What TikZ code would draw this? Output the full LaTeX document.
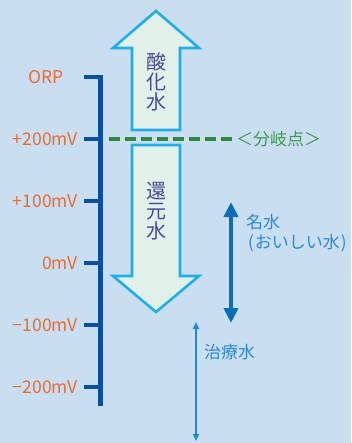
\documentclass[tikz,border=0pt]{standalone}
\usepackage{fontspec}
\newfontfamily\jpfont{Noto Sans CJK JP}
\usetikzlibrary{positioning,arrows.meta}

\definecolor{bgblue}{HTML}{CADEF2}
\definecolor{orpcol}{HTML}{EC6B2D}
\definecolor{axiscol}{HTML}{0A50A2}
\definecolor{arrline}{HTML}{1EAEE8}
\definecolor{arrfill}{HTML}{E2F0EA}
\definecolor{arrtext}{HTML}{4B4A96}
\definecolor{dashcol}{HTML}{2A8C3C}
\definecolor{bunkicol}{HTML}{3D9A4E}
\definecolor{meicol}{HTML}{0D6EB8}
\definecolor{meitext}{HTML}{2C8AD0}
\definecolor{chiryocol}{HTML}{1E8AD6}

\begin{document}
\begin{tikzpicture}[x=1pt,y=-1pt,
  scalelab/.style={font=\jpfont\fontsize{17.5}{20}\selectfont,text=orpcol,inner sep=0pt},
  axisline/.style={axiscol,line width=4.5pt},
  bigarrow/.style={draw=arrline,fill=arrfill,line width=2.6pt,line join=miter},
  arrlab/.style={font=\jpfont\fontsize{20}{20}\selectfont,text=arrtext,align=center,inner sep=0pt},
  sidelab/.style={font=\jpfont\fontsize{17}{20}\selectfont,inner sep=0pt,anchor=west}]
\fill[bgblue] (0,0) rectangle (351,443);
\useasboundingbox (0,0) rectangle (351,443);

% ORP scale
\draw[axisline] (84,77) -- (100.5,77) -- (100.5,406);
\node[scalelab] (orp) at (46,77) {ORP};
\foreach \y/\lab/\nm in {139/+200mV/pz, 201/+100mV/pa, 263/0mV/zero, 325/−100mV/ma, 387/−200mV/mz} {
  \draw[axisline] (84,\y) -- (100.5,\y);
  \node[scalelab,anchor=east] (\nm) at (78,\y) {\lab};
}

% oxidized / reduced water
\draw[bigarrow] (132,130) -- (132,48) -- (113,48) -- (156,11) -- (199,48) -- (180,48) -- (180,130) -- cycle;
\node[arrlab] (sanka) at (156,82) {酸\\化\\水};
\draw[bigarrow] (132,145) -- (180,145) -- (180,276) -- (199,276) -- (156,312) -- (113,276) -- (132,276) -- cycle;
\node[arrlab] (kangen) at (156,211) {還\\元\\水};

% branch point
\node[sidelab,text=bunkicol] (bunki) at (236,139) {＜分岐点＞};
\coordinate (dashstart) at (109,139);
\draw[dashcol,line width=4pt,dash pattern=on 10.7pt off 5.3pt] (dashstart) -- (232,139);

% good water
\coordinate (meitop) at (231,202);
\coordinate (meibot) at (231,323);
\draw[meicol,line width=4pt,{Triangle[length=15pt,width=14pt]}-{Triangle[length=15pt,width=14pt]}] (meitop) -- (meibot);
\node[sidelab,text=meitext] (meisui) at (246,222) {名水};
\node[sidelab,text=meitext] (oishii) at (248,243) {(\kern1pt おいしい水\kern1pt)};

% therapeutic water
\coordinate (chitop) at (196,322);
\coordinate (chibot) at (196,441);
\draw[chiryocol,line width=1.8pt,{Triangle[length=7pt,width=6pt]}-{Triangle[length=7pt,width=6pt]}] (chitop) -- (chibot);
\node[sidelab,text=meitext] (chiryo) at (204,352) {治療水};
\end{tikzpicture}
\end{document}
